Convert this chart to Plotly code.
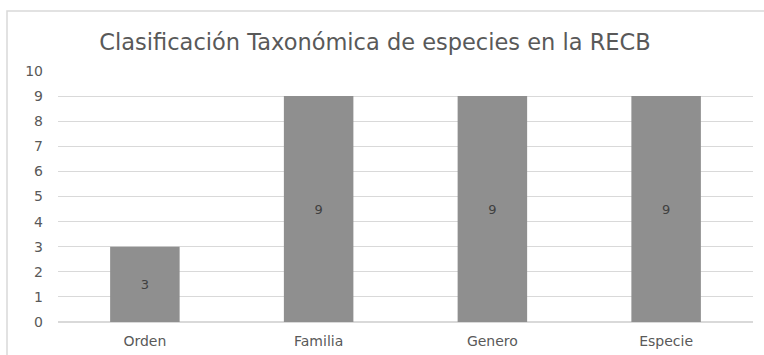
import plotly.graph_objects as go

categories = ["Orden", "Familia", "Genero", "Especie"]
values = [3, 9, 9, 9]
y_ticks = [0, 1, 2, 3, 4, 5, 6, 7, 8, 9, 10]

W, H = 764, 355
L, R, T, B = 58, 11, 71, 33
pw, ph = W - L - R, H - T - B
FONT = "DejaVu Sans"

def px_x(x):
    return (x - L) / pw

def px_y(y):
    return (H - B - y) / ph

fig = go.Figure(go.Bar(
    x=categories, y=values,
    marker=dict(color="#8f8f8f", line=dict(width=0)),
    text=[str(v) for v in values],
    textposition="inside", insidetextanchor="middle",
    textfont=dict(color="#404040", size=13, family=FONT),
    width=0.4,
))

fig.update_layout(
    width=W, height=H,
    margin=dict(l=L, r=R, t=T, b=B),
    paper_bgcolor="white", plot_bgcolor="white",
    showlegend=False,
    font=dict(family=FONT, color="#595959", size=14),
    title=dict(text="Clasificación Taxonómica de especies en la RECB",
               x=px_x(375), xref="paper", xanchor="center",
               y=1 - 42 / H, yref="container", yanchor="middle",
               font=dict(size=22.5, color="#595959", family=FONT)),
    xaxis=dict(showgrid=False, showline=False, ticks="", ticklabelstandoff=9,
               automargin=False,
               tickfont=dict(size=14, color="#595959", family=FONT)),
    yaxis=dict(range=[0, 10], tickvals=y_ticks, showgrid=True, gridcolor="#d9d9d9",
               gridwidth=1, zeroline=True, zerolinecolor="#d9d9d9", showline=False,
               ticks="", ticklabelstandoff=14, automargin=False,
               tickfont=dict(size=14, color="#595959", family=FONT)),
    shapes=[dict(type="rect", xref="paper", yref="paper",
                 x0=px_x(7), x1=px_x(775), y0=px_y(365), y1=px_y(11),
                 line=dict(color="#d9d9d9", width=1.5), fillcolor="rgba(0,0,0,0)", layer="below")],
)

fig.write_html("out.html")
